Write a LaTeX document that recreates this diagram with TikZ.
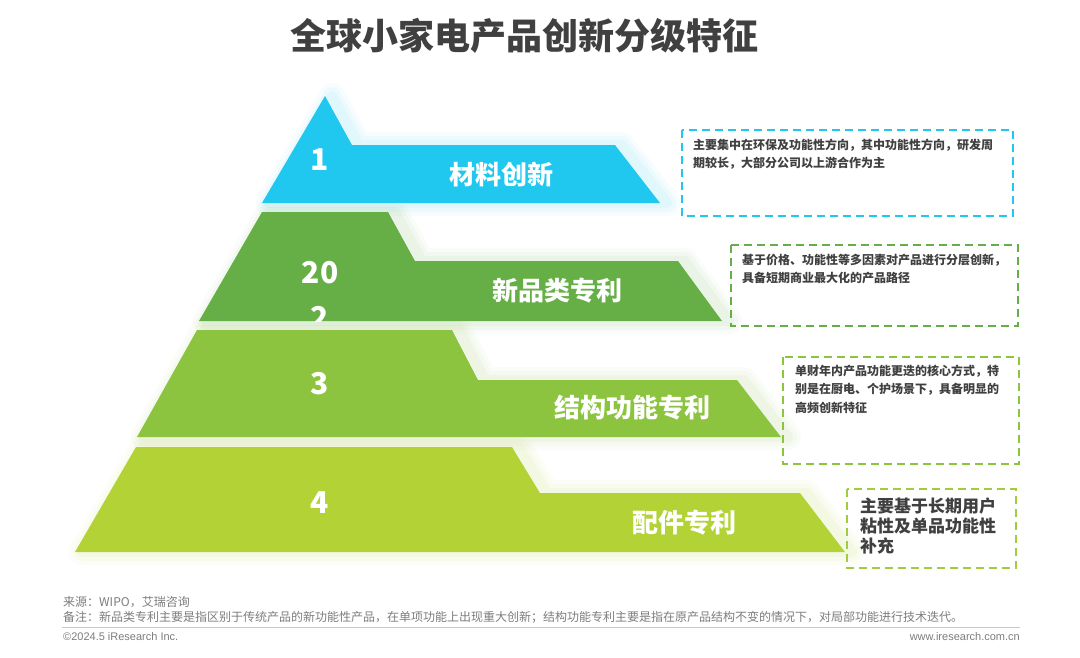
\documentclass[tikz,border=0pt]{standalone}
\usepackage{fontspec}
\setmainfont{Noto Sans CJK SC}
\newfontfamily\lat{Liberation Sans}
\definecolor{tA}{RGB}{32,200,240}
\definecolor{tB}{RGB}{102,174,70}
\definecolor{tC}{RGB}{140,196,63}
\definecolor{tD}{RGB}{178,210,53}
\definecolor{bxD}{RGB}{160,204,62}
\definecolor{txt}{RGB}{64,64,64}
\definecolor{foot}{RGB}{125,125,125}
\definecolor{rule}{RGB}{200,200,200}
\tikzset{
  tierA/.style={insert path={(325,96) -- (352,145) -- (615,145) -- (660,203) -- (262,203) -- cycle}},
  tierB/.style={insert path={(262,212) -- (388,212) -- (415,261) -- (678,261) -- (722,321) -- (199,321) -- cycle}},
  tierC/.style={insert path={(197,330) -- (452,330) -- (478,380) -- (737,380) -- (781,437) -- (137,437) -- cycle}},
  tierD/.style={insert path={(136,447) -- (512,447) -- (540,493) -- (800,493) -- (845,552) -- (75,552) -- cycle}},
  num/.style={text=white, font=\bfseries\fontsize{30}{45}\selectfont, inner sep=0},
  lab/.style={text=white, font=\bfseries\fontsize{26}{30}\selectfont, inner sep=0},
  note/.style={text=txt, anchor=north west, inner sep=0, align=left},
  dbox/.style={line width=1.8pt, dash pattern=on 8pt off 5pt},
}
\begin{document}
\begin{tikzpicture}[x=1pt,y=-1pt]
\useasboundingbox (0,0) rectangle (1080,657);
\fill[white] (0,0) rectangle (1080,657);
% title
\node[text=txt, font=\bfseries\fontsize{36}{40}\selectfont, inner sep=0] (title) at (524,36) {全球小家电产品创新分级特征};
% glows
\foreach \w/\o in {26/0.035,18/0.045,10/0.06}{
  \draw[tA, line width=\w pt, opacity=\o, line join=round, xshift=7pt, tierA];
  \draw[tB, line width=\w pt, opacity=\o, line join=round, xshift=7pt, tierB];
  \draw[tC, line width=\w pt, opacity=\o, line join=round, xshift=7pt, tierC];
  \draw[tD, line width=\w pt, opacity=\o, line join=round, xshift=7pt, tierD];
}
% tiers
\fill[tA, tierA];
\fill[tB, tierB];
\fill[tC, tierC];
\fill[tD, tierD];
% numbers and labels
\node[num] (n1) at (320,160) {1};
\begin{scope}
  \clip[tierB];
  \node[num, align=center] (n2) at (320,295) {20\\2};
\end{scope}
\node[num] (n3) at (320,384) {3};
\node[num] (n4) at (320,503) {4};
\node[lab] (l1) at (501,175) {材料创新};
\node[lab] (l2) at (557,291) {新品类专利};
\node[lab] (l3) at (632,408) {结构功能专利};
\node[lab] (l4) at (684,523) {配件专利};
% dashed boxes
\draw[dbox, tA] (682,130) rectangle (1013,216);
\draw[dbox, tB] (731,245) rectangle (1018,326);
\draw[dbox, tC] (783,357) rectangle (1019,464);
\draw[dbox, bxD] (847,489) rectangle (1016,568);
\node[note, font=\bfseries\fontsize{12}{18.5}\selectfont] (t1) at (693,138.5) {主要集中在环保及功能性方向，其中功能性方向，研发周\\期较长，大部分公司以上游合作为主};
\node[note, font=\bfseries\fontsize{12}{18.5}\selectfont] (t2) at (742,253.5) {基于价格、功能性等多因素对产品进行分层创新，\\具备短期商业最大化的产品路径};
\node[note, font=\bfseries\fontsize{12}{18.5}\selectfont] (t3) at (795,364.5) {单财年内产品功能更迭的核心方式，特\\别是在厨电、个护场景下，具备明显的\\高频创新特征};
\node[note, font=\bfseries\fontsize{17}{20}\selectfont] (t4) at (860,497.5) {主要基于长期用户\\粘性及单品功能性\\补充};
% footer
\node[text=foot, anchor=west, inner sep=0, font=\fontsize{12}{14}\selectfont] (src) at (63,602) {来源：WIPO，艾瑞咨询};
\node[text=foot, anchor=west, inner sep=0, font=\fontsize{12}{14}\selectfont] (rem) at (63,617) {备注：新品类专利主要是指区别于传统产品的新功能性产品，在单项功能上出现重大创新；结构功能专利主要是指在原产品结构不变的情况下，对局部功能进行技术迭代。};
\draw[rule, line width=1pt] (62,627) -- (1020,627);
\node[text=foot, anchor=west, inner sep=0, font=\lat\fontsize{11}{13}\selectfont] (copy) at (63,637) {©2024.5 iResearch Inc.};
\node[text=foot, anchor=east, inner sep=0, font=\lat\fontsize{11}{13}\selectfont] (web) at (1020,637) {www.iresearch.com.cn};
\end{tikzpicture}
\end{document}
